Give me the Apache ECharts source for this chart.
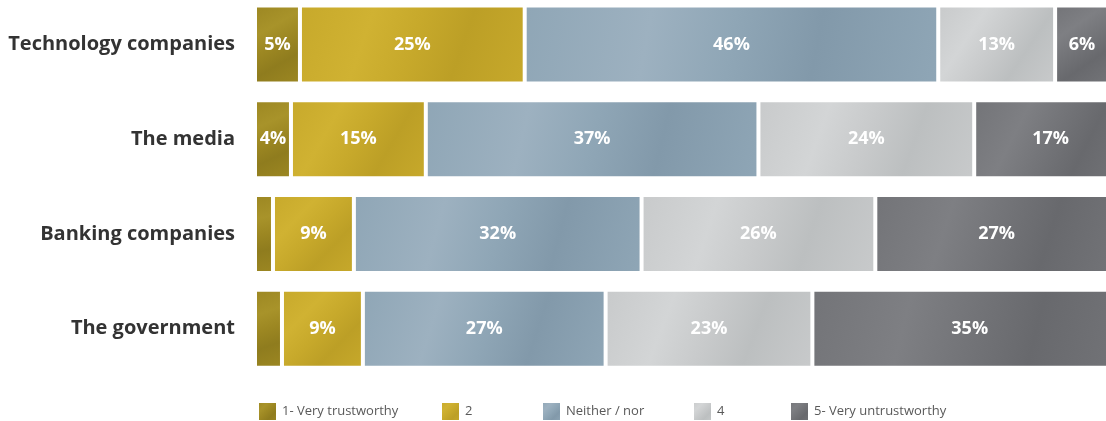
<!DOCTYPE html>
<html>
<head>
<meta charset="utf-8">
<script src="https://cdn.jsdelivr.net/npm/echarts@6/dist/echarts.min.js"></script>
<style>
  html, body { margin: 0; padding: 0; background: #fff; }
  #chart { width: 1106px; height: 421px; }
</style>
</head>
<body>
<div id="chart"></div>
<script>
// Trust in institutions, share of respondents per answer (%)
const categories = ['Technology companies', 'The media', 'Banking companies', 'The government'];
const seriesNames = ['1- Very trustworthy', '2', 'Neither / nor', '4', '5- Very untrustworthy'];
const veryTrustworthy   = [5, 4, 2, 3];
const trustworthy       = [25, 15, 9, 9];
const neitherNor        = [46, 37, 32, 27];
const untrustworthy     = [13, 24, 26, 23];
const veryUntrustworthy = [6, 17, 27, 35];
const seriesValues = [veryTrustworthy, trustworthy, neitherNor, untrustworthy, veryUntrustworthy];

// faceted-looking fills: light / mid / dark tones of each answer colour
const palettes = [
  ['#a8932a', '#9c8722', '#8f7c1e'],
  ['#d0b232', '#c7a92b', '#bc9f26'],
  ['#9db1c0', '#8fa6b6', '#8299aa'],
  ['#d3d5d6', '#c8cacb', '#bcbfc0'],
  ['#7e7f83', '#737478', '#68696d']
];
const legendX = [257, 440, 541, 692, 789];

function fill(p) {
  return new echarts.graphic.LinearGradient(0, 0, 1, 1, [
    { offset: 0, color: p[1] },
    { offset: 0.3, color: p[0] },
    { offset: 0.5, color: p[1] },
    { offset: 0.7, color: p[2] },
    { offset: 1, color: p[1] }
  ]);
}

const chart = echarts.init(document.getElementById('chart'));
chart.setOption({
  backgroundColor: '#ffffff',
  animation: false,
  legend: seriesNames.map((name, i) => ({
    data: [name],
    left: legendX[i],
    top: 401,
    icon: 'rect',
    itemWidth: 19,
    itemHeight: 19,
    itemGap: 0,
    padding: 0,
    textStyle: { color: '#595959', fontSize: 13, fontFamily: 'Open Sans' }
  })),
  grid: { left: 255, top: -3, width: 899, height: 379, outerBoundsMode: 'none', containLabel: false },
  xAxis: {
    type: 'value', min: 0, max: 100,
    show: false
  },
  yAxis: {
    type: 'category',
    data: categories,
    inverse: true,
    axisLine: { show: false },
    axisTick: { show: false },
    axisLabel: {
      color: '#333333', fontSize: 20, fontWeight: 'bold',
      fontFamily: 'Open Sans', margin: 20
    }
  },
  series: seriesNames.map((name, i) => ({
    name,
    type: 'bar',
    stack: 'total',
    barWidth: 78,
    data: seriesValues[i],
    itemStyle: { color: fill(palettes[i]), borderColor: '#ffffff', borderWidth: 2 },
    label: {
      show: true,
      position: 'inside',
      color: '#ffffff',
      fontSize: 18,
      fontWeight: 'bold',
      fontFamily: 'Open Sans',
      formatter: p => (p.value >= 4 ? p.value + '%' : '')
    }
  }))
});
</script>
</body>
</html>
